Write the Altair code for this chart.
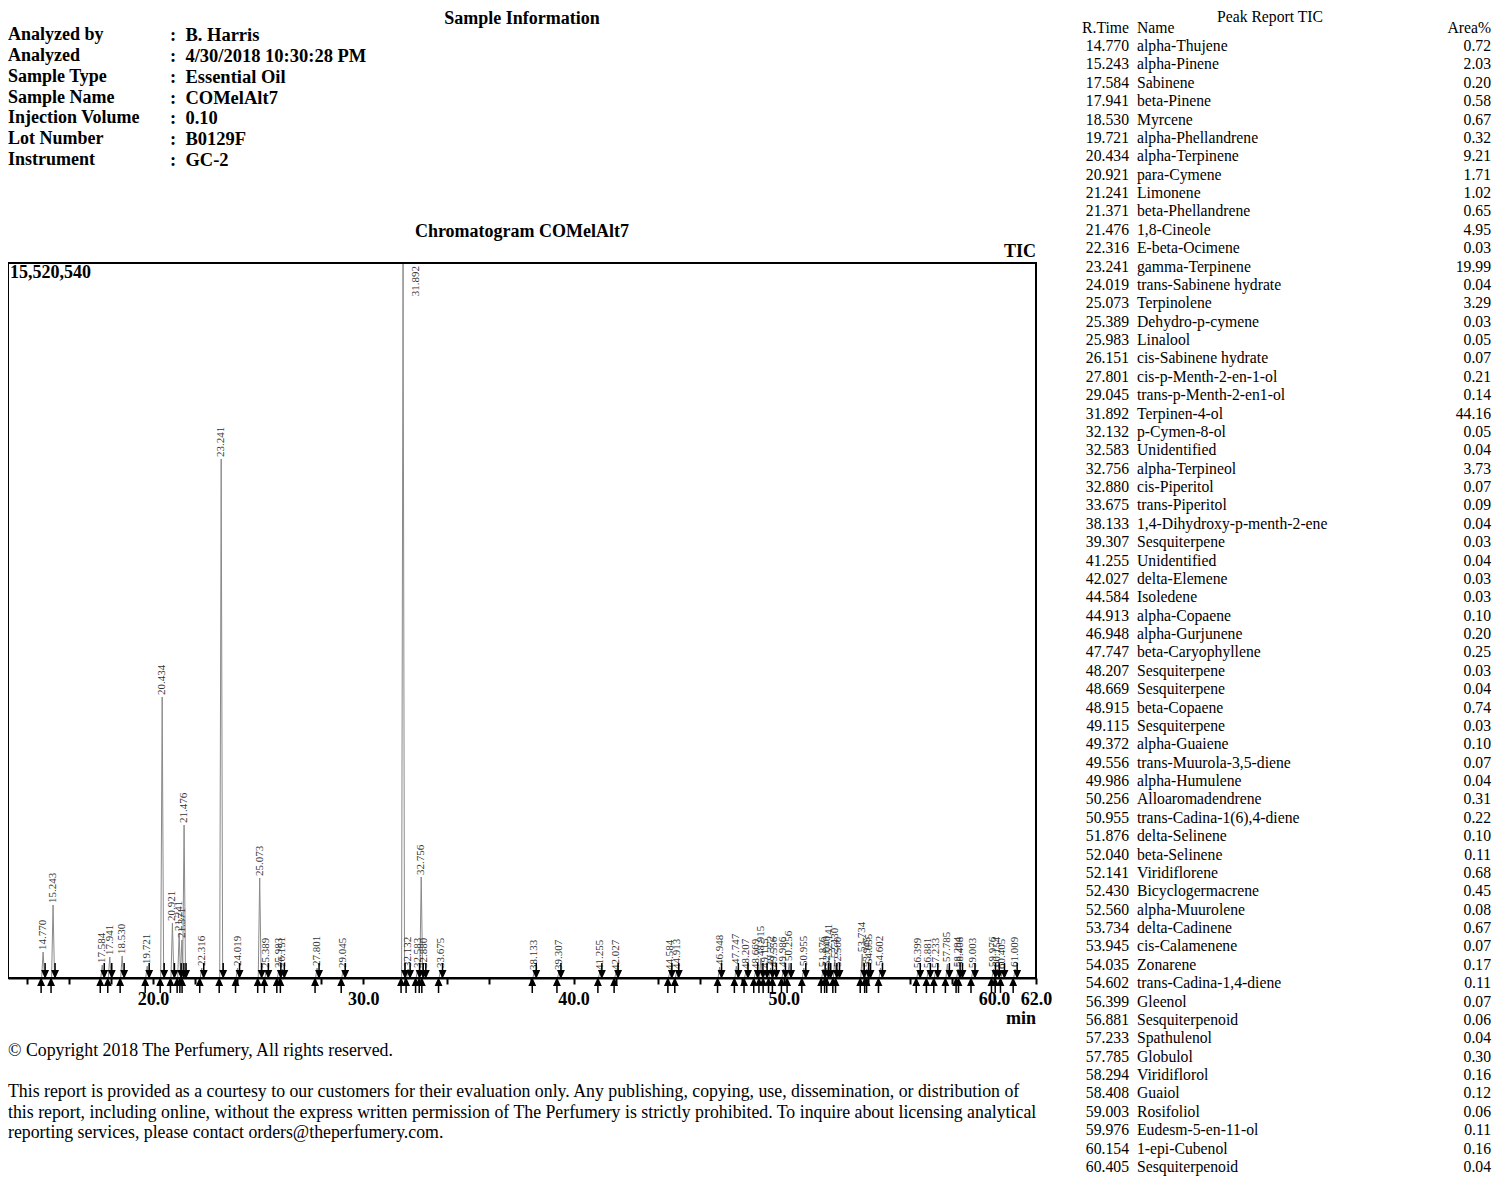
import altair as alt
import pandas as pd

SERIF = "Liberation Serif"

# ---------------- Peak report table ----------------
rt = [14.770, 15.243, 17.584, 17.941, 18.530, 19.721, 20.434, 20.921, 21.241, 21.371,
      21.476, 22.316, 23.241, 24.019, 25.073, 25.389, 25.983, 26.151, 27.801, 29.045,
      31.892, 32.132, 32.583, 32.756, 32.880, 33.675, 38.133, 39.307, 41.255, 42.027,
      44.584, 44.913, 46.948, 47.747, 48.207, 48.669, 48.915, 49.115, 49.372, 49.556,
      49.986, 50.256, 50.955, 51.876, 52.040, 52.141, 52.430, 52.560, 53.734, 53.945,
      54.035, 54.602, 56.399, 56.881, 57.233, 57.785, 58.294, 58.408, 59.003, 59.976,
      60.154, 60.405]
names = ["alpha-Thujene", "alpha-Pinene", "Sabinene", "beta-Pinene", "Myrcene",
         "alpha-Phellandrene", "alpha-Terpinene", "para-Cymene", "Limonene", "beta-Phellandrene",
         "1,8-Cineole", "E-beta-Ocimene", "gamma-Terpinene", "trans-Sabinene hydrate", "Terpinolene",
         "Dehydro-p-cymene", "Linalool", "cis-Sabinene hydrate", "cis-p-Menth-2-en-1-ol",
         "trans-p-Menth-2-en1-ol", "Terpinen-4-ol", "p-Cymen-8-ol", "Unidentified", "alpha-Terpineol",
         "cis-Piperitol", "trans-Piperitol", "1,4-Dihydroxy-p-menth-2-ene", "Sesquiterpene",
         "Unidentified", "delta-Elemene", "Isoledene", "alpha-Copaene", "alpha-Gurjunene",
         "beta-Caryophyllene", "Sesquiterpene", "Sesquiterpene", "beta-Copaene", "Sesquiterpene",
         "alpha-Guaiene", "trans-Muurola-3,5-diene", "alpha-Humulene", "Alloaromadendrene",
         "trans-Cadina-1(6),4-diene", "delta-Selinene", "beta-Selinene", "Viridiflorene",
         "Bicyclogermacrene", "alpha-Muurolene", "delta-Cadinene", "cis-Calamenene", "Zonarene",
         "trans-Cadina-1,4-diene", "Gleenol", "Sesquiterpenoid", "Spathulenol", "Globulol",
         "Viridiflorol", "Guaiol", "Rosifoliol", "Eudesm-5-en-11-ol", "1-epi-Cubenol",
         "Sesquiterpenoid"]
area = [0.72, 2.03, 0.20, 0.58, 0.67, 0.32, 9.21, 1.71, 1.02, 0.65,
        4.95, 0.03, 19.99, 0.04, 3.29, 0.03, 0.05, 0.07, 0.21, 0.14,
        44.16, 0.05, 0.04, 3.73, 0.07, 0.09, 0.04, 0.03, 0.04, 0.03,
        0.03, 0.10, 0.20, 0.25, 0.03, 0.04, 0.74, 0.03, 0.10, 0.07,
        0.04, 0.31, 0.22, 0.10, 0.11, 0.68, 0.45, 0.08, 0.67, 0.07,
        0.17, 0.11, 0.07, 0.06, 0.04, 0.30, 0.16, 0.12, 0.06, 0.11,
        0.16, 0.04]

# ---------------- Chromatogram peaks (TIC counts) ----------------
peak_rt = rt + [61.009]
peak_height = [564000, 1585000, 282000, 456000, 478000, 260000, 6100000, 1194000, 977000, 825000,
               3321000, 217000, 11266000, 217000, 2171000, 174000, 174000, 195000, 217000, 174000,
               24000000, 195000, 174000, 2192000, 174000, 174000, 130000, 130000, 130000, 130000,
               130000, 152000, 239000, 260000, 152000, 152000, 434000, 174000, 217000, 195000,
               195000, 326000, 217000, 195000, 217000, 478000, 391000, 195000, 521000, 195000,
               260000, 217000, 174000, 174000, 174000, 304000, 195000, 195000, 174000, 195000,
               195000, 152000, 195000]
Y_MAX = 15520540
X_DOM = [13.1, 62.0]
x_ticks = list(range(14, 63, 2))
x_labels = [20, 30, 40, 50, 60, 62]

info_labels = ["Analyzed by", "Analyzed", "Sample Type", "Sample Name",
               "Injection Volume", "Lot Number", "Instrument"]
info_values = ["B. Harris", "4/30/2018 10:30:28 PM", "Essential Oil", "COMelAlt7",
               "0.10", "B0129F", "GC-2"]

footer_lines = [
    "\u00a9 Copyright 2018 The Perfumery, All rights reserved.",
    "",
    "This report is provided as a courtesy to our customers for their evaluation only. Any publishing, copying, use, dissemination, or distribution of",
    "this report, including online, without the express written permission of The Perfumery is strictly prohibited. To inquire about licensing analytical",
    "reporting services, please contact orders@theperfumery.com.",
]

W, H = 1484, 1169
AXIS_Y = 970
TOP_Y = 255

# ---------------- chromatogram layers ----------------
xs = alt.Scale(domain=X_DOM, range=[0, 1028], nice=False, zero=False)
ys = alt.Scale(domain=[0, Y_MAX], range=[AXIS_Y, TOP_Y], nice=False, zero=False, clamp=True)
label_expr = f"indexof({x_labels}, datum.value) >= 0 ? format(datum.value, '.1f') : ''"
x_axis = alt.Axis(values=x_ticks, labelExpr=label_expr, offset=AXIS_Y - H, title=None,
                  grid=False, domainColor="black", domainWidth=2, tickColor="black",
                  tickWidth=2, tickSize=6, labelFont=SERIF, labelFontWeight="bold",
                  labelFontSize=18, labelColor="black", labelPadding=6,
                  labelOverlap=False, labelFlush=False, labelBound=False)


def X(field="x"):
    return alt.X(f"{field}:Q", scale=xs, axis=x_axis)


def Y(field="y"):
    return alt.Y(f"{field}:Q", scale=ys, axis=None)


tri = []
for i, (t, h) in enumerate(zip(peak_rt, peak_height)):
    for k, (dt, hh) in enumerate([(-0.07, 0), (0.0, h), (0.07, 0)]):
        tri.append({"pk": i, "k": k, "x": t + dt, "y": hh})
tri_df = pd.DataFrame(tri)
pk_df = pd.DataFrame({"x": peak_rt, "y": peak_height, "base": [0] * len(peak_rt)})

peaks = alt.Chart(tri_df).mark_line(color="#8a8a8a", strokeWidth=1).encode(
    x=X(), y=Y(), detail="pk:N", order="k:O")

peak_labels = alt.Chart(pk_df).transform_filter(alt.datum.y < Y_MAX).mark_text(
    angle=270, align="left", baseline="middle", dx=2, font=SERIF, fontSize=11,
    color="#333333").encode(x=X(), y=Y(), text=alt.Text("x:Q", format=".3f"))

clipped_labels = alt.Chart(pk_df).transform_filter(alt.datum.y >= Y_MAX).mark_text(
    angle=270, align="right", baseline="middle", dx=-3, dy=13, font=SERIF, fontSize=11,
    color="#333333").encode(x=X(), y=Y(), text=alt.Text("x:Q", format=".3f"))

DOWN = "M0,-1L0,0.1M-0.4,0.1L0.4,0.1L0,1Z"
UP = "M0,1L0,-0.1M-0.4,-0.1L0.4,-0.1L0,-1Z"
arrows_end = alt.Chart(pk_df).mark_point(
    shape=DOWN, filled=True, fill="black", stroke="black", strokeWidth=1.5, size=196,
    opacity=1, xOffset=2, yOffset=-8).encode(x=X(), y=Y("base"))
arrows_start = alt.Chart(pk_df).mark_point(
    shape=UP, filled=True, fill="black", stroke="black", strokeWidth=1.5, size=196,
    opacity=1, xOffset=-2, yOffset=8).encode(x=X(), y=Y("base"))

frame_df = pd.DataFrame({"x": [X_DOM[0]], "x2": [X_DOM[1]], "y": [0], "y2": [Y_MAX]})
frame = alt.Chart(frame_df).mark_rect(filled=False, stroke="black", strokeWidth=2).encode(
    x=X(), x2="x2:Q", y=Y(), y2="y2:Q")


def anno(x, y, text, align, dx=0, dy=0):
    df = pd.DataFrame({"x": [x], "y": [y], "t": [text]})
    return alt.Chart(df).mark_text(align=align, baseline="middle", dx=dx, dy=dy, font=SERIF,
                                   fontSize=18, fontWeight="bold", color="black").encode(
        x=X(), y=Y(), text="t:N")


chrom = alt.layer(
    peaks, frame, peak_labels, clipped_labels, arrows_end, arrows_start,
    anno(X_DOM[1], Y_MAX, "TIC", "right", dy=-11),
    anno(X_DOM[0], Y_MAX, f"{Y_MAX:,}", "left", dx=2, dy=10),
    anno(X_DOM[1], 0, "min", "right", dy=41),
    anno((X_DOM[0] + X_DOM[1]) / 2, Y_MAX, "Chromatogram COMelAlt7", "center", dy=-31),
)

# ---------------- Sample information header ----------------
info_df = pd.DataFrame({"i": list(range(len(info_labels))), "label": info_labels,
                        "value": [": \u00a0" + v for v in info_values]})
iy = alt.Y("i:Q", scale=alt.Scale(domain=[0, 6], range=[27, 152], nice=False, zero=False), axis=None)
bold_txt = dict(baseline="middle", font=SERIF, fontSize=18, fontWeight="bold", color="black")
info = alt.layer(
    alt.Chart(info_df).mark_text(align="left", **bold_txt).encode(x=alt.value(0), y=iy, text="label:N"),
    alt.Chart(info_df).mark_text(align="left", dx=0, fontSize=18.5, baseline="middle", font=SERIF,
                                 fontWeight="bold", color="black").encode(
        x=alt.value(162), y=iy, text="value:N"),
    alt.Chart(pd.DataFrame({"i": [-0.78], "t": ["Sample Information"]})).mark_text(
        align="center", **bold_txt).encode(x=alt.value(514), y=iy, text="t:N"),
)

# ---------------- Peak report table ----------------
tbl_df = pd.DataFrame({"i": list(range(len(rt))), "rt": rt, "name": names, "area": area})
ty = alt.Y("i:Q", scale=alt.Scale(domain=[0, len(rt) - 1], range=[38, 1159], nice=False, zero=False),
           axis=None)
reg_txt = dict(baseline="middle", font=SERIF, fontSize=15.7, color="black")
head_df = pd.DataFrame({"i": [-1], "a": ["R.Time"], "b": ["Name"], "c": ["Area%"]})
table = alt.layer(
    alt.Chart(tbl_df).mark_text(align="right", **reg_txt).encode(
        x=alt.value(1121), y=ty, text=alt.Text("rt:Q", format=".3f")),
    alt.Chart(tbl_df).mark_text(align="left", **reg_txt).encode(
        x=alt.value(1129), y=ty, text="name:N"),
    alt.Chart(tbl_df).mark_text(align="right", **reg_txt).encode(
        x=alt.value(1483), y=ty, text=alt.Text("area:Q", format=".2f")),
    alt.Chart(head_df).mark_text(align="right", **reg_txt).encode(x=alt.value(1121), y=ty, text="a:N"),
    alt.Chart(head_df).mark_text(align="left", **reg_txt).encode(x=alt.value(1129), y=ty, text="b:N"),
    alt.Chart(head_df).mark_text(align="right", **reg_txt).encode(x=alt.value(1483), y=ty, text="c:N"),
    alt.Chart(pd.DataFrame({"i": [-1.6], "t": ["Peak Report TIC"]})).mark_text(
        align="center", **reg_txt).encode(x=alt.value(1262), y=ty, text="t:N"),
)

# ---------------- Footer ----------------
foot_df = pd.DataFrame({"i": list(range(len(footer_lines))), "t": footer_lines})
foot_df = foot_df[foot_df["t"] != ""]
fy = alt.Y("i:Q", scale=alt.Scale(domain=[0, 4], range=[1043, 1125], nice=False, zero=False), axis=None)
footer = alt.Chart(foot_df).mark_text(align="left", baseline="middle", font=SERIF, fontSize=17.8,
                                      color="black").encode(x=alt.value(0), y=fy, text="t:N")

chart = alt.layer(chrom, info, table, footer).resolve_scale(
    x="independent", y="independent"
).properties(
    width=W, height=H, autosize=alt.AutoSizeParams(type="none"), padding=0
).configure_view(strokeWidth=0)

chart.save("out.html", embed_options={"renderer": "svg", "actions": False})
